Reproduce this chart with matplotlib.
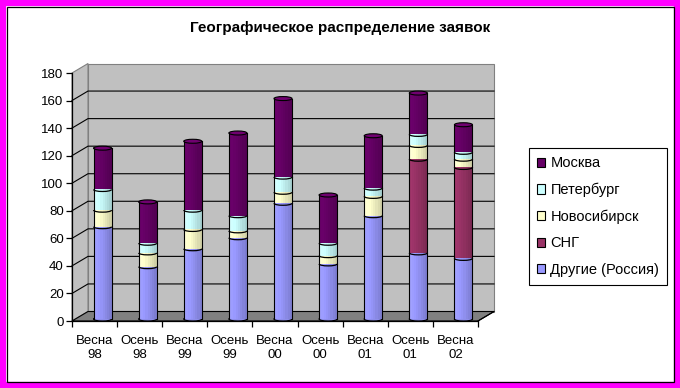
import numpy as np
import matplotlib
matplotlib.use('Agg')
import matplotlib.pyplot as plt
import matplotlib.colors as mcolors
from matplotlib.patches import Rectangle, Ellipse, Polygon, Arc, Patch
from matplotlib.transforms import ScaledTranslation, IdentityTransform

plt.rcParams['font.family'] = ['Liberation Sans', 'DejaVu Sans']

categories = ['Весна\n98', 'Осень\n98', 'Весна\n99', 'Осень\n99', 'Весна\n00',
              'Осень\n00', 'Весна\n01', 'Осень\n01', 'Весна\n02']
drugie = [67, 38, 51, 59, 84, 40, 75, 48, 44]
sng = [0, 0, 0, 0, 0, 0, 0, 68, 66]
novosib = [12, 10, 14, 5, 8, 6, 14, 10, 6]
piter = [15, 7, 14, 11, 11, 9, 6, 8, 5]
moskva = [30, 30, 50, 60, 57, 35, 38, 30, 20]

series = [drugie, sng, novosib, piter, moskva]
names = ['Другие (Россия)', 'СНГ', 'Новосибирск', 'Петербург', 'Москва']
colors = ['#9999FF', '#993366', '#FFFFCC', '#CCFFFF', '#660066']
yticks = list(range(0, 181, 20))

W, H, DPI = 680, 388, 100
dx, dy = 16, 9.5          # depth of the 3d box, pixels
bw = 0.4                  # cylinder width in category units
ell_h = 2.9               # cylinder cap height in data units

fig = plt.figure(figsize=(W / DPI, H / DPI), dpi=DPI)
fig.patch.set_facecolor('white')

# magenta border + thin black line inside
fig.patches.append(Rectangle((3 / W, 3 / H), 1 - 6 / W, 1 - 6 / H, transform=fig.transFigure,
                             fill=False, edgecolor='#FF00FF', linewidth=4.5))
fig.patches.append(Rectangle((6.5 / W, 6.5 / H), 1 - 13 / W, 1 - 13 / H, transform=fig.transFigure,
                             fill=False, edgecolor='black', linewidth=0.9))

fig.text(340 / W, 1 - 28 / H, 'Географическое распределение заявок',
         ha='center', va='center', fontsize=11, fontweight='bold')

ax = fig.add_axes([72 / W, 67 / H, 406 / W, 248 / H])
ax.set_xlim(0, len(categories))
ax.set_ylim(0, 180)
ax.patch.set_visible(False)
for s in ['top', 'right']:
    ax.spines[s].set_visible(False)
ax.spines['left'].set_linewidth(0.9)
ax.spines['bottom'].set_linewidth(0.9)
ax.spines['left'].set_zorder(6)
ax.spines['bottom'].set_zorder(6)

ident = IdentityTransform()
n = len(categories)


def px(x, y, f=0.0):
    p = ax.transData.transform((x, y))
    return (p[0] + f * dx, p[1] + f * dy)


# walls and floor
back = [px(0, 0, 1), px(n, 0, 1), px(n, 180, 1), px(0, 180, 1)]
ax.add_patch(Polygon(back, closed=True, transform=ident, facecolor='#C0C0C0',
                     edgecolor='#808080', linewidth=0.8, zorder=0, clip_on=False))
side = [px(0, 0), px(0, 0, 1), px(0, 180, 1), px(0, 180)]
ax.add_patch(Polygon(side, closed=True, transform=ident, facecolor='#C0C0C0',
                     edgecolor='#808080', linewidth=0.8, zorder=0, clip_on=False))
floor = [px(0, 0), px(n, 0), px(n, 0, 1), px(0, 0, 1)]
ax.add_patch(Polygon(floor, closed=True, transform=ident, facecolor='#808080',
                     edgecolor='black', linewidth=0.8, zorder=1, clip_on=False))

for v in yticks[1:-1]:
    a, b, c = px(0, v), px(0, v, 1), px(n, v, 1)
    ax.add_line(plt.Line2D([a[0], b[0], c[0]], [a[1], b[1], c[1]], transform=ident,
                           color='black', linewidth=0.8, zorder=1, clip_on=False))

# cylinders, pushed into the box
half = ax.transData + ScaledTranslation(8 / DPI, 2 / DPI, fig.dpi_scale_trans)
nstrip = 8
shade = np.concatenate([np.linspace(1.05, 1.0, 3), np.linspace(0.97, 0.82, nstrip - 3)])

for i in range(n):
    x0 = i + 0.5 - bw / 2
    bottom = 0
    segs = [(series[k][i], colors[k]) for k in range(len(series)) if series[k][i] > 0]
    # bottom cap
    rgb0 = np.array(mcolors.to_rgb(segs[0][1]))
    ax.add_patch(Ellipse((i + 0.5, 0), bw, ell_h, transform=half, facecolor=rgb0 * 0.92,
                         edgecolor='black', linewidth=0.8, zorder=3, clip_on=False))
    for h, col in segs:
        rgb = np.array(mcolors.to_rgb(col))
        sw = bw / nstrip
        for j in range(nstrip):
            c = np.clip(rgb * shade[j], 0, 1)
            ax.add_patch(Rectangle((x0 + j * sw, bottom), sw * 1.02, h, transform=half,
                                   facecolor=c, edgecolor='none', zorder=4, clip_on=False))
        ax.add_line(plt.Line2D([x0, x0], [bottom, bottom + h], transform=half,
                               color='black', linewidth=0.8, zorder=5, clip_on=False))
        ax.add_line(plt.Line2D([x0 + bw, x0 + bw], [bottom, bottom + h], transform=half,
                               color='black', linewidth=0.8, zorder=5, clip_on=False))
        if bottom > 0:
            ax.add_patch(Arc((i + 0.5, bottom), bw, ell_h, theta1=180, theta2=360,
                             transform=half, edgecolor='black', linewidth=0.9, zorder=5,
                             clip_on=False))
        bottom += h
    topc = np.array(mcolors.to_rgb(segs[-1][1]))
    ax.add_patch(Ellipse((i + 0.5, bottom), bw, ell_h, transform=half,
                         facecolor=np.clip(topc * 1.1, 0, 1),
                         edgecolor='black', linewidth=0.8, zorder=6, clip_on=False))

# ticks
ax.set_yticks(yticks)
ax.tick_params(axis='y', direction='out', length=4, width=0.9, labelsize=9.5, pad=2)
ax.set_xticks(np.arange(n) + 0.5)
ax.set_xticklabels(categories, fontsize=9.5, linespacing=1.2)
ax.set_xticks(np.arange(n + 1), minor=True)
ax.tick_params(axis='x', which='major', length=0, pad=10)
ax.tick_params(axis='x', which='minor', direction='out', length=4, width=0.9)

# right floor edge
a, b = px(n, 0), px(n, 0, 1)
ax.add_line(plt.Line2D([a[0], b[0]], [a[1], b[1]], transform=ident, color='black',
                       linewidth=0.8, zorder=6, clip_on=False))

handles = [Patch(facecolor=c, edgecolor='black', linewidth=0.8) for c in colors]
leg = fig.legend(handles[::-1], names[::-1], loc='center',
                 bbox_to_anchor=(528 / W, 103 / H, 140 / W, 137 / H),
                 fontsize=10.5, frameon=True, fancybox=False, framealpha=1,
                 edgecolor='black', handlelength=0.6, handleheight=0.6,
                 handletextpad=0.35, labelspacing=0.85, borderpad=0.55,
                 borderaxespad=0)
leg.get_frame().set_linewidth(0.8)

fig.savefig('out.png', dpi=DPI)
